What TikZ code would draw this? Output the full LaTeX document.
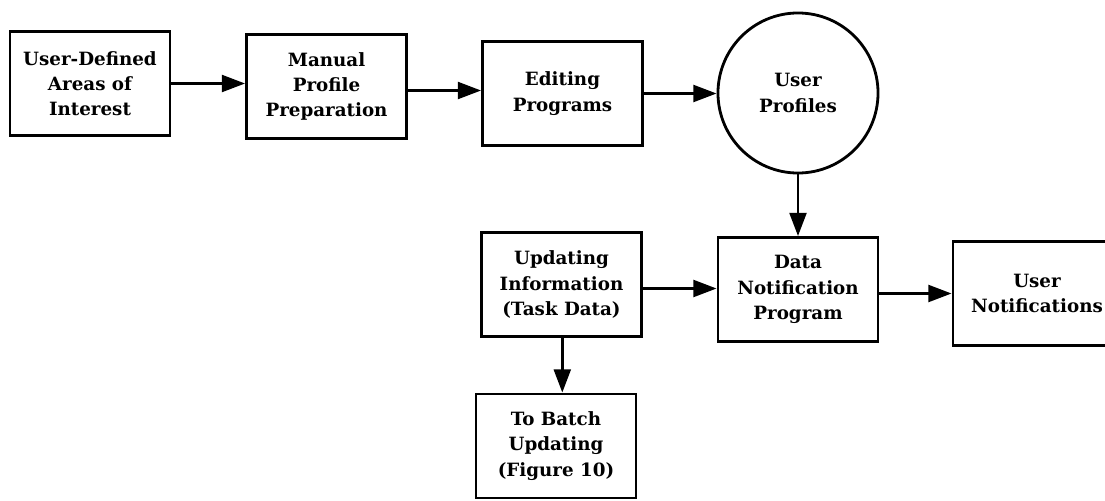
\documentclass[tikz,border=0pt]{standalone}
\usepackage{fontspec}
\setmainfont{DejaVu Serif}
\usetikzlibrary{shapes,arrows.meta}

\begin{document}
\begin{tikzpicture}[x=0.025cm,y=-0.025cm,
  box/.style={draw,line width=2pt,minimum width=4cm,minimum height=2.6cm,align=center,
    font=\bfseries\fontsize{13}{18}\selectfont},
  arr/.style={line width=2pt,-{Triangle[length=0.58cm,width=0.42cm]}}]
\useasboundingbox (0,0) rectangle (1105,500);
\node[box] (areas) at (90,83.5) {User-Defined\\Areas of\\Interest};
\node[box] (manual) at (326.5,86.5) {Manual\\Profile\\Preparation};
\node[box] (editing) at (562.5,93.5) {Editing\\Programs};
\node[box,circle,minimum size=4cm] (profiles) at (798,93) {User\\Profiles};
\node[box] (updating) at (561.5,284.5) {Updating\\Information\\(Task Data)};
\node[box] (datanote) at (798,289.5) {Data\\Notification\\Program};
\node[box,minimum width=4.2cm] (usernote) at (1037,293.5) {User\\Notifications};
\node[box] (batch) at (556,446) {To Batch\\Updating\\(Figure 10)};
\draw[arr] (areas.east) -- (areas.east -| manual.west);
\draw[arr] ([yshift=-0.1cm]manual.east) -- ([yshift=-0.1cm]manual.east -| editing.west);
\draw[arr] (editing.east) -- (editing.east -| profiles.west);
\draw[arr] (profiles.south) -- (datanote.north);
\draw[arr] ([yshift=-0.1cm]updating.east) -- ([yshift=-0.1cm]updating.east -| datanote.west);
\draw[arr] ([yshift=-0.1cm]datanote.east) -- ([yshift=-0.1cm]datanote.east -| usernote.west);
\draw[arr] ([xshift=0.02cm]updating.south) -- ([xshift=0.02cm]updating.south |- batch.north);
\end{tikzpicture}
\end{document}
